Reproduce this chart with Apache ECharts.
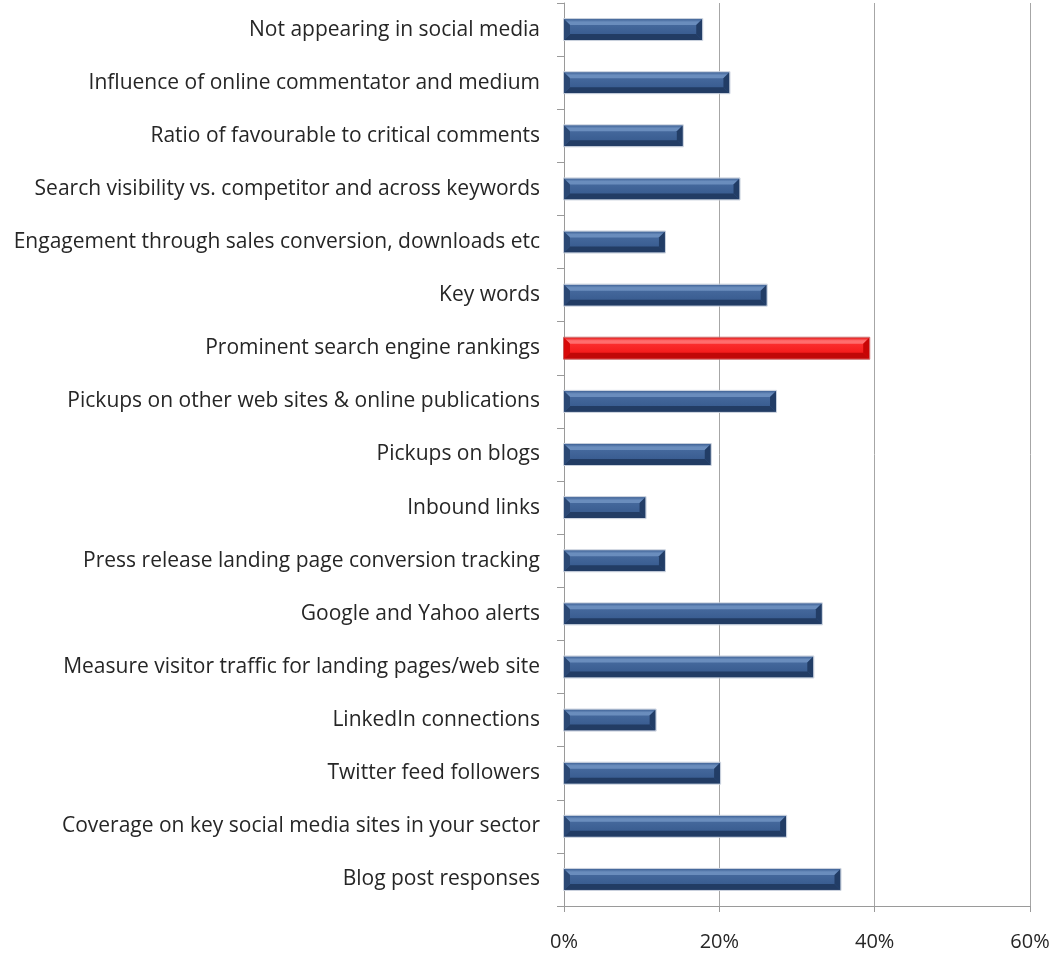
<!DOCTYPE html>
<html>
<head>
<meta charset="utf-8">
<script src="https://cdn.jsdelivr.net/npm/echarts@6/dist/echarts.min.js"></script>
<style>
  html, body { margin: 0; padding: 0; background: #ffffff; }
  #chart { width: 1053px; height: 955px; }
</style>
</head>
<body>
<div id="chart"></div>
<script>
// Measures used to track online PR results (top to bottom)
const categories = [
  'Not appearing in social media',
  'Influence of online commentator and medium',
  'Ratio of favourable to critical comments',
  'Search visibility vs. competitor and across keywords',
  'Engagement through sales conversion, downloads etc',
  'Key words',
  'Prominent search engine rankings',
  'Pickups on other web sites & online publications',
  'Pickups on blogs',
  'Inbound links',
  'Press release landing page conversion tracking',
  'Google and Yahoo alerts',
  'Measure visitor traffic for landing pages/web site',
  'LinkedIn connections',
  'Twitter feed followers',
  'Coverage on key social media sites in your sector',
  'Blog post responses'
];

// Share of respondents, percent
const shares = [17.8, 21.3, 15.3, 22.6, 13.0, 26.1, 39.3, 27.3, 18.9, 10.5, 13.0, 33.2, 32.1, 11.8, 20.1, 28.6, 35.6];

// The top answer is highlighted
const highlighted = 'Prominent search engine rankings';

const xTicks = [0, 20, 40, 60];

// Bevelled bar palettes: face gradient, top / bottom / side facets, outline
const palettes = {
  blue: {
    faceTop: '#4b6fa3', faceBottom: '#33568a',
    topFrom: '#3e6195', topTo: '#6a8dbd',
    bottom: '#223c64',
    left: '#2b4874', right: '#223d66',
    outline: '#c6cedb'
  },
  red: {
    faceTop: '#ff3a3a', faceBottom: '#f01010',
    topFrom: '#e81a1a', topTo: '#ff6e6e',
    bottom: '#c00808',
    left: '#d80a0a', right: '#c80505',
    outline: '#c86060'
  }
};

const BAR_H = 21;
const BEVEL = 6;

function renderBar(params, api) {
  const value = api.value(0);
  const cat = api.value(1);
  const start = api.coord([0, cat]);
  const end = api.coord([value, cat]);
  const x0 = start[0], x1 = end[0];
  const y0 = start[1] - BAR_H / 2, y1 = y0 + BAR_H;
  const b = Math.min(BEVEL, (x1 - x0) / 2);
  const pal = categories[cat] === highlighted ? palettes.red : palettes.blue;
  return {
    type: 'group',
    children: [
      {
        type: 'rect',
        shape: { x: x0, y: y0, width: x1 - x0, height: BAR_H },
        style: {
          fill: new echarts.graphic.LinearGradient(0, 0, 0, 1, [
            { offset: 0, color: pal.faceTop },
            { offset: 1, color: pal.faceBottom }
          ])
        }
      },
      {
        type: 'polygon',
        shape: { points: [[x0, y0], [x1, y0], [x1 - b, y0 + b], [x0 + b, y0 + b]] },
        style: {
          fill: new echarts.graphic.LinearGradient(0, 0, 0, 1, [
            { offset: 0, color: pal.topFrom },
            { offset: 0.5, color: pal.topTo },
            { offset: 1, color: pal.topTo }
          ])
        }
      },
      {
        type: 'polygon',
        shape: { points: [[x0, y1], [x1, y1], [x1 - b, y1 - b], [x0 + b, y1 - b]] },
        style: { fill: pal.bottom }
      },
      {
        type: 'polygon',
        shape: { points: [[x0, y0], [x0 + b, y0 + b], [x0 + b, y1 - b], [x0, y1]] },
        style: { fill: pal.left }
      },
      {
        type: 'polygon',
        shape: { points: [[x1, y0], [x1 - b, y0 + b], [x1 - b, y1 - b], [x1, y1]] },
        style: { fill: pal.right }
      },
      {
        type: 'rect',
        shape: { x: x0 - 0.5, y: y0 - 0.5, width: x1 - x0 + 1, height: BAR_H + 1 },
        style: { fill: null, stroke: pal.outline, lineWidth: 1 }
      }
    ]
  };
}

const chart = echarts.init(document.getElementById('chart'), null, { renderer: 'canvas' });

chart.setOption({
  animation: false,
  backgroundColor: '#ffffff',
  grid: { left: 564, right: 23, top: 3, bottom: 49, containLabel: false },
  xAxis: {
    type: 'value',
    min: 0,
    max: 60,
    interval: 20,
    axisLine: { show: true, lineStyle: { color: '#9a9a9a', width: 1 } },
    axisTick: { show: true, length: 6, lineStyle: { color: '#9a9a9a' } },
    splitLine: { show: true, lineStyle: { color: '#a6a6a6', width: 1 } },
    axisLabel: {
      margin: 26,
      fontFamily: '"Open Sans", Lato, sans-serif',
      fontSize: 20,
      color: '#262626',
      formatter: v => (xTicks.includes(v) ? v + '%' : '')
    }
  },
  yAxis: {
    type: 'category',
    inverse: true,
    data: categories,
    boundaryGap: true,
    axisLine: { show: true, lineStyle: { color: '#9a9a9a', width: 1 } },
    axisTick: { show: true, length: 7, lineStyle: { color: '#9a9a9a' } },
    axisLabel: {
      margin: 24,
      fontFamily: '"Open Sans", Lato, sans-serif',
      fontSize: 21,
      color: '#262626'
    }
  },
  series: [{
    type: 'custom',
    renderItem: renderBar,
    encode: { x: 0, y: 1 },
    data: shares.map((v, i) => [v, i])
  }]
});
</script>
</body>
</html>
